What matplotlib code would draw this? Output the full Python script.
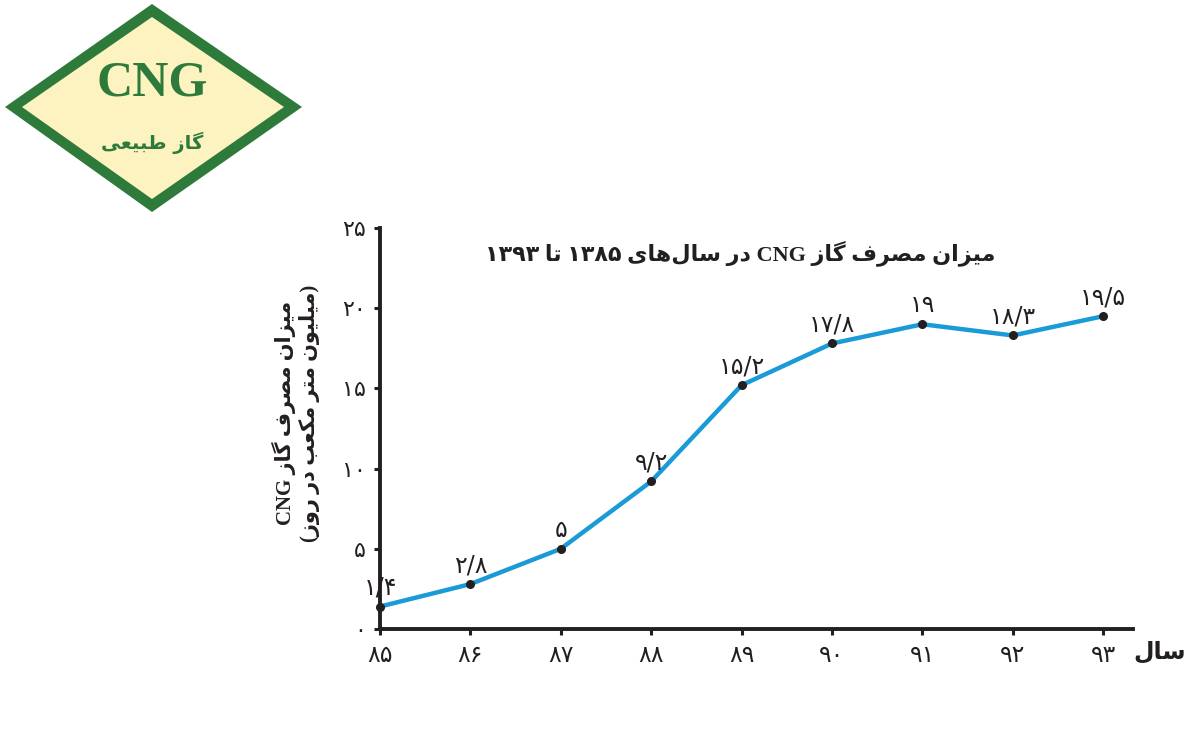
import numpy as np
import matplotlib
matplotlib.use('Agg')
import matplotlib.pyplot as plt
from matplotlib.patches import Polygon

# data
years = [85, 86, 87, 88, 89, 90, 91, 92, 93]
consumption = [1.4, 2.8, 5, 9.2, 15.2, 17.8, 19, 18.3, 19.5]
yticks = [0, 5, 10, 15, 20, 25]

title = 'میزان مصرف گاز CNG در سال\u200cهای ۱۳۸۵ تا ۱۳۹۳'
ylabel_1 = 'میزان مصرف گاز CNG'
ylabel_2 = '(میلیون متر مکعب در روز)'
xlabel = 'سال'
logo_top = 'CNG'
logo_bottom = 'گاز طبیعی'

# simple persian shaping (matplotlib has no bidi / joining)
# forms: isolated, final, initial, medial
FORMS = {
    'ا': ('\uFE8D', '\uFE8E', '\uFE8D', '\uFE8E'),
    'ب': ('\uFE8F', '\uFE90', '\uFE91', '\uFE92'),
    'ت': ('\uFE95', '\uFE96', '\uFE97', '\uFE98'),
    'د': ('\uFEA9', '\uFEAA', '\uFEA9', '\uFEAA'),
    'ر': ('\uFEAD', '\uFEAE', '\uFEAD', '\uFEAE'),
    'ز': ('\uFEAF', '\uFEB0', '\uFEAF', '\uFEB0'),
    'س': ('\uFEB1', '\uFEB2', '\uFEB3', '\uFEB4'),
    'ص': ('\uFEB9', '\uFEBA', '\uFEBB', '\uFEBC'),
    'ط': ('\uFEC1', '\uFEC2', '\uFEC3', '\uFEC4'),
    'ع': ('\uFEC9', '\uFECA', '\uFECB', '\uFECC'),
    'ف': ('\uFED1', '\uFED2', '\uFED3', '\uFED4'),
    'ک': ('\uFB8E', '\uFB8F', '\uFB90', '\uFB91'),
    'گ': ('\uFB92', '\uFB93', '\uFB94', '\uFB95'),
    'ل': ('\uFEDD', '\uFEDE', '\uFEDF', '\uFEE0'),
    'م': ('\uFEE1', '\uFEE2', '\uFEE3', '\uFEE4'),
    'ن': ('\uFEE5', '\uFEE6', '\uFEE7', '\uFEE8'),
    'ه': ('\uFEE9', '\uFEEA', '\uFEEB', '\uFEEC'),
    'و': ('\uFEED', '\uFEEE', '\uFEED', '\uFEEE'),
    'ی': ('\uFBFC', '\uFBFD', '\uFBFE', '\uFBFF'),
}
RIGHT_ONLY = set('اآدذرزژو')
MIRROR = str.maketrans('()', ')(')
FA_DIGITS = str.maketrans('0123456789.', '۰۱۲۳۴۵۶۷۸۹/')


def shape_word(w):
    out = ''
    for i, c in enumerate(w):
        if c not in FORMS:
            out += c
            continue
        prev = w[i - 1] if i > 0 else ''
        nxt = w[i + 1] if i + 1 < len(w) else ''
        pj = prev in FORMS and prev not in RIGHT_ONLY
        nj = c not in RIGHT_ONLY and nxt in FORMS
        if pj and nj:
            out += FORMS[c][3]
        elif pj:
            out += FORMS[c][1]
        elif nj:
            out += FORMS[c][2]
        else:
            out += FORMS[c][0]
    return out.replace('\u200c', '')


def fa(text):
    words = []
    for w in text.split(' '):
        if any(ch in FORMS for ch in w):
            words.append(shape_word(w)[::-1].translate(MIRROR))
        else:
            words.append(w)
    return ' '.join(reversed(words))


def fa_num(v):
    return f'{v:g}'.translate(FA_DIGITS)


fa_font = ['DejaVu Sans']
mix_font = ['Liberation Serif', 'DejaVu Sans']
ink = '#231f20'
blue = '#1a9bd7'
green = '#2d7a3b'

fig = plt.figure(figsize=(11.97, 7.30), dpi=100)

# logo
lax = fig.add_axes([0, (730 - 215) / 730, 310 / 1197, 215 / 730])
lax.set_xlim(0, 310)
lax.set_ylim(215, 0)
lax.axis('off')
lax.add_patch(Polygon([(5, 107), (152, 4), (302, 107), (152, 212)], closed=True,
                      facecolor=green, edgecolor='none'))
lax.add_patch(Polygon([(22, 107), (152, 17), (284, 107), (152, 199)], closed=True,
                      facecolor='#fdf3c0', edgecolor='none'))
lax.text(152, 84, logo_top, ha='center', va='center', fontsize=36,
         fontweight='bold', family='Liberation Serif', color=green)
lax.text(152, 143, fa(logo_bottom), ha='center', va='center', fontsize=14,
         fontweight='bold', family=fa_font, color=green)

# chart
ax = fig.add_axes([380 / 1197, 101 / 730, 753 / 1197, 401 / 730])
ax.plot(years, consumption, color=blue, linewidth=3.2, solid_capstyle='butt', zorder=2)
ax.plot(years, consumption, 'o', color=ink, markersize=5.5, zorder=3, clip_on=False)
for x, y in zip(years, consumption):
    ax.annotate(fa_num(y), (x, y), xytext=(0, 5), textcoords='offset points',
                ha='center', va='bottom', fontsize=17, family=fa_font, color=ink)

ax.set_xlim(85, 93.33)
ax.set_ylim(0, 25)
ax.set_xticks(years)
ax.set_xticklabels([fa_num(v) for v in years], fontsize=17, family=fa_font, color=ink)
ax.set_yticks(yticks)
ax.set_yticklabels([fa_num(v) for v in yticks], fontsize=16, family=fa_font, color=ink)
ax.tick_params(axis='both', direction='out', length=4, width=2.2, color=ink, pad=6)
for s in ['top', 'right']:
    ax.spines[s].set_visible(False)
for s in ['left', 'bottom']:
    ax.spines[s].set_linewidth(2.8)
    ax.spines[s].set_color(ink)
ax.patch.set_alpha(0)

ax.text(0.479, 0.938, fa(title), transform=ax.transAxes, ha='center', va='center',
        fontsize=16, fontweight='bold', family=mix_font, color=ink)
fig.text(296 / 1197, 1 - 413 / 730, fa(ylabel_1) + '\n' + fa(ylabel_2), rotation=90,
         ha='center', va='center', multialignment='center', fontsize=15,
         fontweight='bold', family=mix_font, color=ink, linespacing=1.2)
fig.text(1160 / 1197, 1 - 652 / 730, fa(xlabel), ha='center', va='center',
         fontsize=17, fontweight='bold', family=fa_font, color=ink)

fig.savefig('out.png', dpi=100)
